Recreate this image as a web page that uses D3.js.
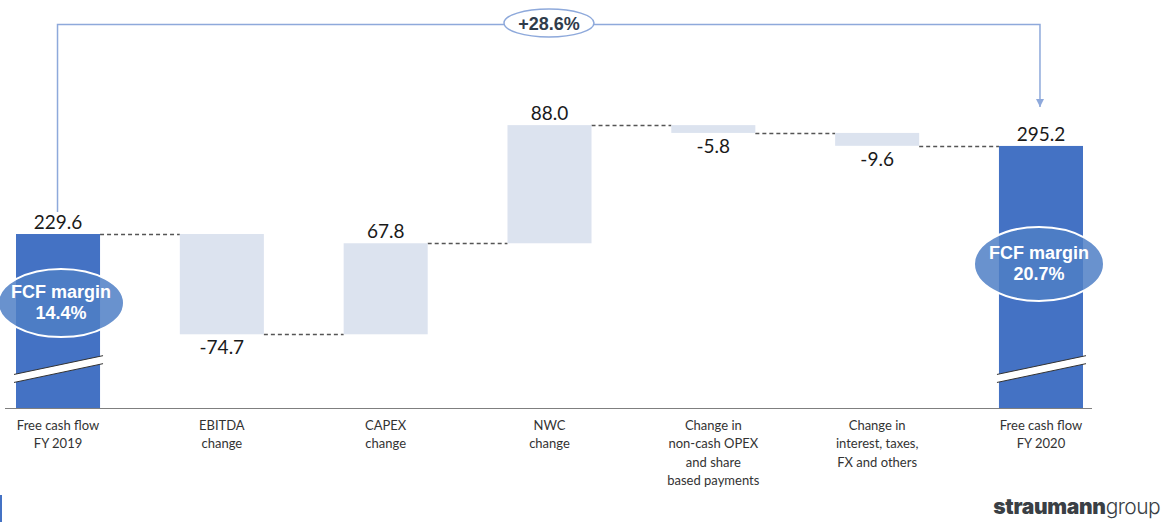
<!DOCTYPE html>
<html>
<head>
<meta charset="utf-8">
<script src="https://cdn.jsdelivr.net/npm/d3@7"></script>
<style>
  html, body { margin: 0; padding: 0; background: #ffffff; }
  svg { display: block; }
</style>
</head>
<body>
<svg id="chart" width="1166" height="522"></svg>
<script>
// ---- Data ----
const categories = ["fcf2019", "ebitda", "capex", "nwc", "opex", "interest", "fcf2020"];
const categoryLabels = [
  ["Free cash flow", "FY 2019"],
  ["EBITDA", "change"],
  ["CAPEX", "change"],
  ["NWC", "change"],
  ["Change in", "non-cash OPEX", "and share", "based payments"],
  ["Change in", "interest, taxes,", "FX and others"],
  ["Free cash flow", "FY 2020"]
];
const values = [229.6, -74.7, 67.8, 88.0, -5.8, -9.6, 295.2];
const isTotal = [true, false, false, false, false, false, true];
const valueLabels = ["229.6", "-74.7", "67.8", "88.0", "-5.8", "-9.6", "295.2"];
const marginLabels = [["FCF margin", "14.4%"], null, null, null, null, null, ["FCF margin", "20.7%"]];
const growthLabel = "+28.6%";
const axisDomain = [100, 300]; // broken axis: baseline does not start at zero

// ---- Build waterfall ----
const rows = [];
let running = 0;
categories.forEach((c, i) => {
  let start, end;
  if (isTotal[i]) { start = axisDomain[0]; end = values[i]; running = values[i]; }
  else { start = running; end = running + values[i]; running = end; }
  rows.push({ cat: c, i, start, end, v: values[i], total: isTotal[i] });
});

const svg = d3.select("#chart");
const x = d3.scaleBand().domain(categories).range([16, 1083]).paddingInner(0.487).paddingOuter(0);
const y = d3.scaleLinear().domain(axisDomain).range([408, 139.5]);
const bw = x.bandwidth();

const BLUE = "#4472C4", PALE = "#DCE3EF";

// connectors
const conn = svg.append("g");
rows.slice(0, -1).forEach((r, k) => {
  const level = r.end;
  conn.append("line")
    .attr("x1", x(r.cat) + bw).attr("x2", x(rows[k + 1].cat))
    .attr("y1", Math.round(y(level)) + 0.5).attr("y2", Math.round(y(level)) + 0.5)
    .attr("stroke", "#555").attr("stroke-width", 1.4).attr("stroke-dasharray", "4,3");
});

// bars
svg.append("g").selectAll("rect").data(rows).join("rect")
  .attr("x", d => x(d.cat))
  .attr("y", d => y(Math.max(d.start, d.end)))
  .attr("width", bw)
  .attr("height", d => Math.abs(y(d.start) - y(d.end)))
  .attr("fill", d => d.total ? BLUE : PALE);

// axis baseline
svg.append("line").attr("x1", 5).attr("x2", 1092).attr("y1", y(axisDomain[0]) + 0.5).attr("y2", y(axisDomain[0]) + 0.5)
  .attr("stroke", "#7f7f7f").attr("stroke-width", 1.2);

// break marks on total bars
rows.filter(d => d.total).forEach(d => {
  const x0 = x(d.cat) - 2, x1 = x(d.cat) + bw + 3;
  const yl = y(122), yr = y(136);
  const g = svg.append("g");
  g.append("path")
    .attr("d", `M${x0},${yl - 4} L${x1},${yr - 4} L${x1},${yr + 4} L${x0},${yl + 4} Z`)
    .attr("fill", "#fff");
  g.append("line").attr("x1", x0).attr("y1", yl - 4).attr("x2", x1).attr("y2", yr - 4).attr("stroke", "#333").attr("stroke-width", 1);
  g.append("line").attr("x1", x0).attr("y1", yl + 4).attr("x2", x1).attr("y2", yr + 4).attr("stroke", "#333").attr("stroke-width", 1);
});

// value labels
svg.append("g").selectAll("text").data(rows).join("text")
  .attr("x", d => x(d.cat) + bw / 2)
  .attr("y", d => d.v >= 0 ? y(Math.max(d.start, d.end)) - 5 : y(Math.min(d.start, d.end)) + 20)
  .attr("text-anchor", "middle")
  .attr("font-family", "Lato, 'Open Sans', sans-serif")
  .attr("font-size", 19)
  .attr("fill", "#1a1a1a")
  .text(d => valueLabels[d.i]);

// category labels
const cl = svg.append("g");
categoryLabels.forEach((lines, i) => {
  const t = cl.append("text")
    .attr("x", x(categories[i]) + bw / 2)
    .attr("y", 430)
    .attr("text-anchor", "middle")
    .attr("font-family", "Lato, 'Open Sans', sans-serif")
    .attr("font-size", 13)
    .attr("fill", "#333");
  lines.forEach((ln, j) => t.append("tspan").attr("x", x(categories[i]) + bw / 2).attr("y", 430 + j * 18.3).text(ln));
});

// margin ellipses
const ellipses = [{ i: 0, cx: 61, cy: 303, rx: 63, ry: 34 }, { i: 6, cx: 1039, cy: 264, rx: 65, ry: 37 }];
ellipses.forEach(e => {
  const g = svg.append("g");
  g.append("ellipse").attr("cx", e.cx).attr("cy", e.cy).attr("rx", e.rx).attr("ry", e.ry)
    .attr("fill", "#4f7fc6").attr("fill-opacity", 0.85).attr("stroke", "#fff").attr("stroke-width", 2);
  const lab = marginLabels[e.i];
  g.append("text").attr("x", e.cx).attr("y", e.cy - 5).attr("text-anchor", "middle")
    .attr("font-family", "'Liberation Sans', Arial, sans-serif").attr("font-weight", "bold").attr("font-size", 18)
    .attr("fill", "#fff").text(lab[0]);
  g.append("text").attr("x", e.cx).attr("y", e.cy + 16).attr("text-anchor", "middle")
    .attr("font-family", "'Liberation Sans', Arial, sans-serif").attr("font-weight", "bold").attr("font-size", 18)
    .attr("fill", "#fff").text(lab[1]);
});

// growth annotation
const xa = x(categories[0]) + bw / 2 - 0.5, xb = x(categories[6]) + bw / 2 - 1;
const ay = 24.5;
const ann = svg.append("g");
svg.append("defs").append("marker").attr("id", "arr").attr("viewBox", "0 0 10 10").attr("refX", 10).attr("refY", 5)
  .attr("markerWidth", 8).attr("markerHeight", 8).attr("markerUnits", "userSpaceOnUse").attr("orient", "auto")
  .append("path").attr("d", "M0,0 L10,5 L0,10 Z").attr("fill", "#8EA9DB");
ann.append("path").attr("d", `M${xa},212 L${xa},${ay} L${xb},${ay} L${xb},107`)
  .attr("fill", "none").attr("stroke", "#8EA9DB").attr("stroke-width", 1.5).attr("marker-end", "url(#arr)");
ann.append("ellipse").attr("cx", 549).attr("cy", 23).attr("rx", 45).attr("ry", 14)
  .attr("fill", "#fff").attr("stroke", "#8EA9DB").attr("stroke-width", 1.5);
ann.append("text").attr("x", 549).attr("y", 29.5).attr("text-anchor", "middle")
  .attr("font-family", "'Liberation Sans', Arial, sans-serif").attr("font-weight", "bold").attr("font-size", 18)
  .attr("fill", "#2f3b4a").text(growthLabel);

// small blue mark bottom-left
svg.append("rect").attr("x", 0).attr("y", 495).attr("width", 2).attr("height", 27).attr("fill", BLUE);

// logo
const logo = svg.append("text").attr("x", 1160).attr("y", 514).attr("text-anchor", "end")
  .attr("font-family", "Inter, 'Noto Sans', sans-serif").attr("font-size", 21).attr("fill", "#3a3f45");
logo.append("tspan").attr("font-weight", 900).attr("letter-spacing", -0.3).text("straumann");
logo.append("tspan").attr("font-weight", 300).attr("letter-spacing", -0.6).text("group");
</script>
</body>
</html>
